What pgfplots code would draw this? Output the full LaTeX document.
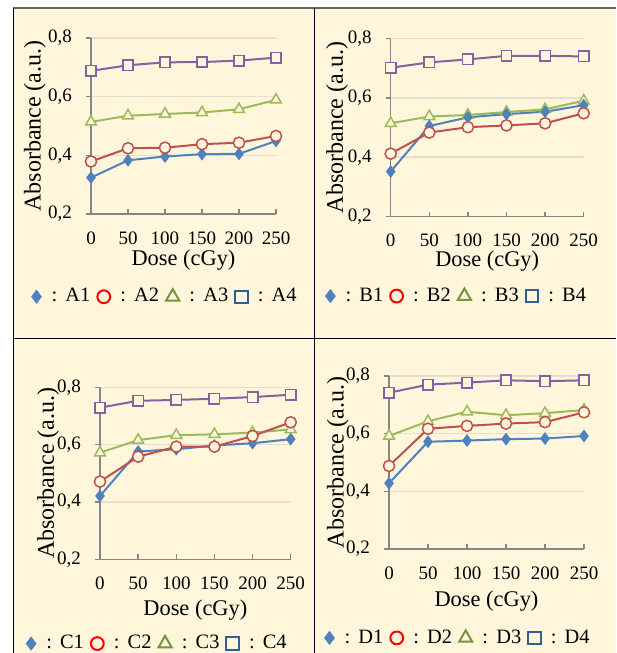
\documentclass[border=0pt]{standalone}
\usepackage{fontspec}
\setmainfont{Liberation Serif}
\usepackage{pgfplots}
\pgfplotsset{compat=1.18}

\definecolor{bg}{HTML}{FFF6DC}
\definecolor{sblue}{HTML}{4F81BD}
\definecolor{sred}{HTML}{C0504D}
\definecolor{sgreen}{HTML}{9BBB59}
\definecolor{spurple}{HTML}{8064A2}
\definecolor{axgray}{HTML}{868686}
\definecolor{gridc}{HTML}{E4E0D0}
\definecolor{lgreen}{HTML}{77933C}
\definecolor{lblue}{HTML}{2F5E9B}

\pgfplotsset{
  panel/.style={
    scale only axis,
    anchor=south west,
    xmin=0, xmax=250, ymin=0.2, ymax=0.8,
    xtick={0,50,...,250}, ytick={0.2,0.4,0.6,0.8},
    axis lines*=left,
    axis line style={axgray, line width=0.75pt},
    tick align=inside,
    major tick length=2.5pt,
    tick style={axgray, line width=0.75pt},
    ytick style={xshift=-2.5pt},
    ymajorgrids,
    grid style={gridc, line width=0.75pt},
    /pgf/number format/assume math mode=true,
    yticklabel style={/pgf/number format/fixed, /pgf/number format/fixed zerofill,
      /pgf/number format/precision=1, /pgf/number format/use comma, xshift=-6pt},
    ticklabel style={font=\fontsize{9.5}{11}\selectfont},
    xticklabel style={yshift=-5.3pt},
    xlabel={Dose (cGy)},
    ylabel={Absorbance (a.u.)},
    xlabel style={font=\fontsize{11.2}{13}\selectfont, anchor=center},
    ylabel style={font=\fontsize{12}{14}\selectfont, anchor=center},
    clip=false,
    legend columns=4,
    legend style={draw=none, fill=none, anchor=center,
      font=\fontsize{10.2}{12}\selectfont, nodes={inner sep=0pt},
      /tikz/every even column/.append style={column sep=3.5pt},
      /tikz/every odd column/.append style={column sep=0.5pt}},
    legend image code/.code={\draw[#1] plot coordinates {(0pt,0pt)};},
  },
  s1/.style={sblue, line width=1pt, mark=diamond*, mark size=2.8pt,
    mark options={fill=sblue, draw=sblue, line width=0.5pt}},
  s2/.style={sred, line width=1pt, mark=*, mark size=2.8pt,
    mark options={fill=bg, draw=sred, line width=0.75pt}},
  s3/.style={sgreen, line width=1pt, mark=triangle*, mark size=3.1pt,
    mark options={fill=bg, draw=sgreen, line width=0.75pt}},
  s4/.style={spurple, line width=1pt, mark=square*, mark size=2.6pt,
    mark options={fill=bg, draw=spurple, line width=0.75pt}},
}

\newcommand{\legendimages}{%
  \addlegendimage{mark=diamond*, sblue, mark size=3.3pt, line width=0.3pt, mark options={fill=sblue}}
  \addlegendimage{mark=o, red, mark size=3.2pt, line width=1pt}
  \addlegendimage{mark=triangle, lgreen, mark size=3.8pt, line width=1pt}
  \addlegendimage{mark=square, lblue, mark size=3.1pt, line width=1pt}
}
\newcommand{\lt}[1]{\hspace{0.45em}:\hspace{0.4em}#1}

\begin{document}
\begin{tikzpicture}
\path[use as bounding box, fill=white] (0,0) rectangle (308pt,326.5pt);
\fill[bg] (6.65pt,0) rectangle (308pt,322.5pt);
\draw[black!60, line width=0.75pt] (6.3pt,322.5pt) -- (308pt,322.5pt);
\draw[black, line width=0.75pt] (6.65pt,0) -- (6.65pt,322.5pt);
\draw[black, line width=0.75pt] (157.15pt,0) -- (157.15pt,322.5pt);
\draw[black, line width=0.75pt] (6.65pt,157.35pt) -- (308pt,157.35pt);

% Panel A
\begin{axis}[panel, at={(45.5pt,219.5pt)}, width=92.5pt, height=88pt,
  xlabel style={at={(axis description cs:0.5,-0.261)}},
  ylabel style={at={(axis description cs:-0.303,0.5)}},
  legend style={at={(0.395,-0.47)}}]
\legendimages
\addplot[s4, forget plot] coordinates {(0,0.688) (50,0.707) (100,0.717) (150,0.718) (200,0.723) (250,0.733)};
\addplot[s3, forget plot] coordinates {(0,0.514) (50,0.535) (100,0.541) (150,0.546) (200,0.557) (250,0.589)};
\addplot[s1, forget plot] coordinates {(0,0.324) (50,0.383) (100,0.396) (150,0.404) (200,0.405) (250,0.449)};
\addplot[s2, forget plot] coordinates {(0,0.379) (50,0.424) (100,0.426) (150,0.438) (200,0.443) (250,0.466)};
\legend{\lt{A1}, \lt{A2}, \lt{A3}, \lt{A4}}
\end{axis}

% Panel B
\begin{axis}[panel, at={(195.35pt,218.15pt)}, width=96.5pt, height=89.2pt,
  xlabel style={at={(axis description cs:0.5,-0.249)}},
  ylabel style={at={(axis description cs:-0.278,0.5)}},
  legend style={at={(0.337,-0.445)}}]
\legendimages
\addplot[s4, forget plot] coordinates {(0,0.701) (50,0.719) (100,0.729) (150,0.741) (200,0.741) (250,0.739)};
\addplot[s3, forget plot] coordinates {(0,0.514) (50,0.537) (100,0.542) (150,0.552) (200,0.561) (250,0.590)};
\addplot[s1, forget plot] coordinates {(0,0.352) (50,0.505) (100,0.534) (150,0.545) (200,0.553) (250,0.575)};
\addplot[s2, forget plot] coordinates {(0,0.412) (50,0.483) (100,0.501) (150,0.507) (200,0.514) (250,0.548)};
\legend{\lt{B1}, \lt{B2}, \lt{B3}, \lt{B4}}
\end{axis}

% Panel C
\begin{axis}[panel, at={(50pt,46.85pt)}, width=95.35pt, height=86pt,
  xlabel style={at={(axis description cs:0.5,-0.297)}},
  ylabel style={at={(axis description cs:-0.272,0.5)}},
  legend style={at={(0.296,-0.49)}}]
\legendimages
\addplot[s4, forget plot] coordinates {(0,0.729) (50,0.753) (100,0.756) (150,0.760) (200,0.766) (250,0.774)};
\addplot[s3, forget plot] coordinates {(0,0.572) (50,0.616) (100,0.633) (150,0.636) (200,0.642) (250,0.653)};
\addplot[s1, forget plot] coordinates {(0,0.421) (50,0.576) (100,0.584) (150,0.597) (200,0.605) (250,0.619)};
\addplot[s2, forget plot] coordinates {(0,0.471) (50,0.558) (100,0.593) (150,0.593) (200,0.630) (250,0.678)};
\legend{\lt{C1}, \lt{C2}, \lt{C3}, \lt{C4}}
\end{axis}

% Panel D
\begin{axis}[panel, at={(194.5pt,52pt)}, width=97.5pt, height=86.5pt,
  xlabel style={at={(axis description cs:0.5,-0.299)}},
  ylabel style={at={(axis description cs:-0.262,0.5)}},
  legend style={at={(0.349,-0.514)}}]
\legendimages
\addplot[s4, forget plot] coordinates {(0,0.742) (50,0.770) (100,0.777) (150,0.785) (200,0.782) (250,0.785)};
\addplot[s3, forget plot] coordinates {(0,0.592) (50,0.643) (100,0.676) (150,0.664) (200,0.671) (250,0.682)};
\addplot[s1, forget plot] coordinates {(0,0.428) (50,0.572) (100,0.576) (150,0.581) (200,0.583) (250,0.592)};
\addplot[s2, forget plot] coordinates {(0,0.488) (50,0.617) (100,0.627) (150,0.635) (200,0.640) (250,0.674)};
\legend{\lt{D1}, \lt{D2}, \lt{D3}, \lt{D4}}
\end{axis}
\end{tikzpicture}
\end{document}
